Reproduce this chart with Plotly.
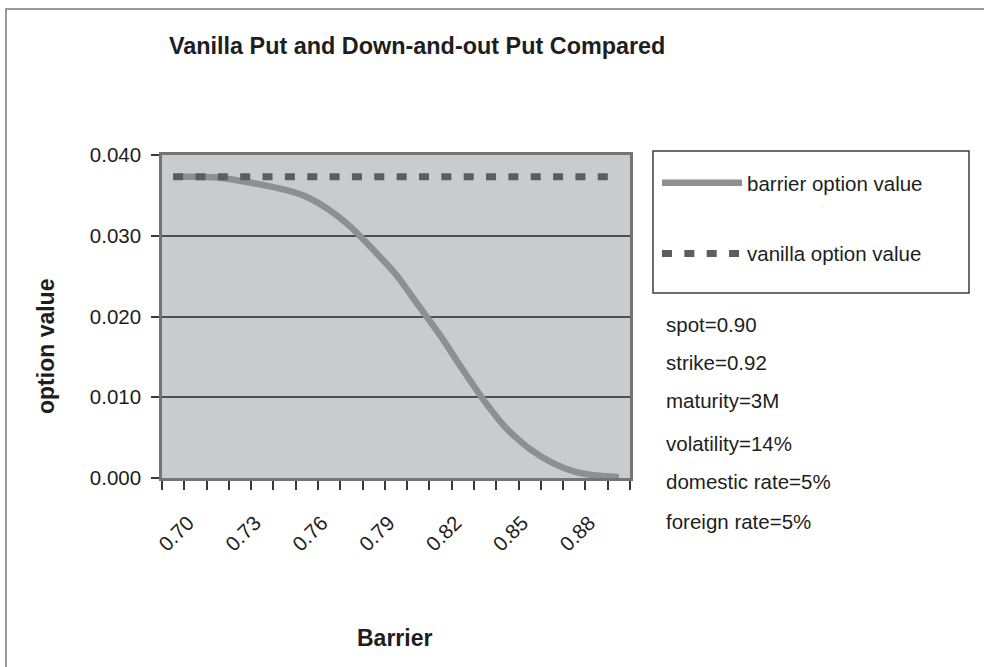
import plotly.graph_objects as go

# Barrier levels (category axis of the chart)
barrier = [0.70, 0.71, 0.72, 0.73, 0.74, 0.75, 0.76, 0.77, 0.78, 0.79, 0.80,
           0.81, 0.82, 0.83, 0.84, 0.85, 0.86, 0.87, 0.88, 0.89, 0.90]

# Down-and-out put value for each barrier level
barrier_option_value = [0.0373, 0.0373, 0.0372, 0.0368, 0.0363, 0.0357, 0.0348,
                        0.0332, 0.0310, 0.0282, 0.0252, 0.0214, 0.0176, 0.0134,
                        0.0094, 0.0060, 0.0036, 0.0019, 0.0008, 0.0003, 0.0001]

# Vanilla put value (does not depend on the barrier)
vanilla_option_value = [0.0373, 0.0373, 0.0373, 0.0373, 0.0373, 0.0373, 0.0373,
                        0.0373, 0.0373, 0.0373, 0.0373, 0.0373, 0.0373, 0.0373,
                        0.0373, 0.0373, 0.0373, 0.0373, 0.0373, 0.0373, 0.0373]

# Labelled barrier ticks
tick_values = [0.70, 0.73, 0.76, 0.79, 0.82, 0.85, 0.88]
tick_labels = ["0.70", "0.73", "0.76", "0.79", "0.82", "0.85", "0.88"]

# Market parameters listed beside the chart
param_labels = ["spot=0.90", "strike=0.92", "maturity=3M",
                "volatility=14%", "domestic rate=5%", "foreign rate=5%"]

# ---- layout geometry (pixels) ----
W, H = 984, 667
ML, MR, MT, MB = 162, 354, 155, 189
PW, PH = W - ML - MR, H - MT - MB


def fx(px):
    return (px - ML) / PW


def fy(py):
    return (H - MB - py) / PH


FONT = "Liberation Sans, Arial, Helvetica, sans-serif"
TXT = "#1e1e1e"

fig = go.Figure()

fig.add_trace(go.Scatter(
    x=barrier, y=barrier_option_value, mode="lines",
    name="barrier option value", legendgroup="a",
    line=dict(color="#8e8f93", width=6.5, shape="spline", smoothing=0.6),
))
fig.add_trace(go.Scatter(
    x=barrier, y=vanilla_option_value, mode="lines",
    name="vanilla option value", legendgroup="b",
    line=dict(color="#5c5d61", width=7, dash="10px,12.35px"),
))

shapes = [
    # outer frame of the figure
    dict(type="rect", xref="paper", yref="paper",
         x0=fx(6), x1=fx(1000), y0=fy(700), y1=fy(9),
         line=dict(color="#7a7a7a", width=1.5), layer="below"),
    # legend box
    dict(type="rect", xref="paper", yref="paper",
         x0=fx(653), x1=fx(969), y0=fy(293), y1=fy(151),
         line=dict(color="#3c3c3c", width=1.5), fillcolor="rgba(0,0,0,0)"),
]

annotations = [
    dict(text="<b>option value</b>", xref="paper", yref="paper",
         x=fx(46), y=fy(347), textangle=-90, showarrow=False,
         xanchor="center", yanchor="middle",
         font=dict(family=FONT, size=23, color=TXT)),
    dict(text="<b>Barrier</b>", xref="paper", yref="paper",
         x=fx(394), y=fy(638), showarrow=False,
         xanchor="center", yanchor="middle",
         font=dict(family=FONT, size=23, color=TXT)),
]

param_y = [324, 362, 400, 443, 481, 521]
for lbl, py in zip(param_labels, param_y):
    annotations.append(dict(
        text=lbl, xref="paper", yref="paper", x=fx(664), y=fy(py),
        showarrow=False, xanchor="left", yanchor="middle",
        font=dict(family=FONT, size=20.5, color=TXT)))

fig.update_layout(
    width=W, height=H,
    margin=dict(l=ML, r=MR, t=MT, b=MB, autoexpand=False),
    paper_bgcolor="white",
    plot_bgcolor="#cacbcd",
    font=dict(family=FONT, size=20.5, color=TXT),
    title=dict(text="<b>Vanilla Put and Down-and-out Put Compared</b>",
               x=169 / W, xanchor="left", xref="container",
               y=1 - 46 / H, yanchor="middle", yref="container",
               font=dict(family=FONT, size=23.4, color=TXT)),
    showlegend=True,
    legend=dict(x=fx(657), y=fy(163), xanchor="left", yanchor="top",
                bgcolor="rgba(0,0,0,0)", borderwidth=0,
                itemwidth=80, tracegroupgap=41,
                font=dict(family=FONT, size=20.5, color=TXT)),
    shapes=shapes,
    annotations=annotations,
)

fig.update_xaxes(
    range=[0.695, 0.905],
    tickmode="array", tickvals=tick_values, ticktext=tick_labels,
    ticks="", tickangle=-45,
    ticklabelshift=15, ticklabelstandoff=22,
    tickfont=dict(family=FONT, size=20.5, color=TXT),
    minor=dict(tickmode="linear", tick0=0.695, dtick=0.01,
               ticks="outside", ticklen=9, tickcolor="#3a3a3a",
               tickwidth=1.5, showgrid=False),
    showgrid=False, zeroline=False,
    showline=True, linecolor="#747474", linewidth=2.5, mirror=True,
)

fig.update_yaxes(
    range=[0, 0.04], tickmode="linear", tick0=0, dtick=0.01,
    tickformat=".3f",
    ticks="outside", ticklen=8, tickcolor="#3a3a3a", tickwidth=1.5,
    ticklabelstandoff=6,
    tickfont=dict(family=FONT, size=20.5, color=TXT),
    showgrid=True, gridcolor="#4e4e4e", gridwidth=1.5,
    zeroline=False,
    showline=True, linecolor="#747474", linewidth=2.5, mirror=True,
)

fig.write_html("out.html")
